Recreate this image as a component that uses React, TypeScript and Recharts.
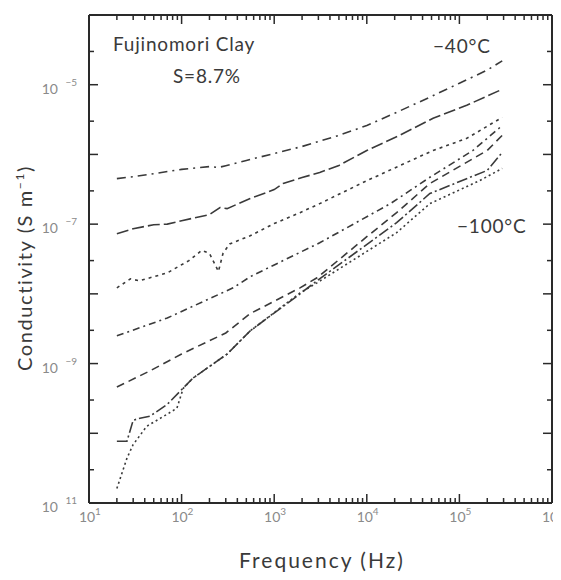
import React from "react";
import { LineChart, Line, XAxis, YAxis } from "recharts";

// frequency (Hz) / conductivity (S m^-1) for each curve
const f1 = [20, 30, 50, 100, 200, 250, 300, 500, 1000, 2000, 5000, 10000, 20000, 50000, 100000, 200000, 290000];
const s1 = [4.5e-7, 4.8e-7, 5.3e-7, 6.1e-7, 6.7e-7, 6.5e-7, 6.9e-7, 8.2e-7, 1.03e-6, 1.3e-6, 1.88e-6, 2.6e-6, 3.9e-6, 6.8e-6, 1.05e-5, 1.62e-5, 2.2e-5];

const f2 = [20, 30, 50, 70, 100, 200, 260, 310, 550, 1000, 1250, 2000, 3100, 5000, 10000, 23000, 52000, 120000, 290000];
const s2 = [7.3e-8, 8.6e-8, 9.8e-8, 1.0e-7, 1.12e-7, 1.37e-7, 1.73e-7, 1.67e-7, 2.33e-7, 3.13e-7, 3.83e-7, 4.67e-7, 5.5e-7, 6.95e-7, 1.14e-6, 1.9e-6, 3.3e-6, 5.07e-6, 8.6e-6];

const f3 = [20, 28, 35, 70, 120, 165, 200, 250, 280, 330, 550, 1000, 1900, 3100, 10000, 52000, 120000, 290000];
const s3 = [1.22e-8, 1.64e-8, 1.54e-8, 2.0e-8, 3.0e-8, 4.2e-8, 3.8e-8, 2.1e-8, 3.8e-8, 5.2e-8, 6.8e-8, 1.02e-7, 1.46e-7, 1.97e-7, 4.2e-7, 1.14e-6, 1.7e-6, 3.4e-6];

const f4 = [20, 70, 360, 550, 1000, 3100, 18000, 48000, 140000, 290000];
const s4 = [2.5e-9, 4.5e-9, 1.22e-8, 1.76e-8, 2.6e-8, 5.4e-8, 1.97e-7, 4.7e-7, 1.14e-6, 2.6e-6];

const f5 = [20, 45, 100, 300, 550, 1900, 2900, 10000, 21000, 48000, 200000, 290000];
const s5 = [4.6e-10, 7.8e-10, 1.37e-9, 2.75e-9, 5.2e-9, 1.22e-8, 1.7e-8, 6.6e-8, 1.46e-7, 3.83e-7, 1.14e-6, 1.88e-6];

const f6 = [20, 25.7, 30, 35.5, 45.6, 70, 96, 133, 310, 550, 1900, 2900, 21000, 48000, 200000, 290000];
const s6 = [7.7e-11, 7.7e-11, 1.54e-10, 1.64e-10, 1.76e-10, 2.6e-10, 4.0e-10, 6.2e-10, 1.37e-9, 2.94e-9, 1.0e-8, 1.54e-8, 1.05e-7, 2.75e-7, 5.9e-7, 1.07e-6];

const f7 = [20, 25.7, 30, 42, 70, 89, 104, 133, 310, 550, 1900, 2900, 21000, 48000, 166000, 290000];
const s7 = [1.62e-11, 4.4e-11, 6.9e-11, 1.26e-10, 1.88e-10, 2.29e-10, 4.4e-10, 6.2e-10, 1.37e-9, 2.94e-9, 1.03e-8, 1.44e-8, 7.55e-8, 1.97e-7, 4.22e-7, 6.3e-7];

const xTicks = [
  10, 20, 30, 40, 50, 60, 70, 80, 90,
  100, 200, 300, 400, 500, 600, 700, 800, 900,
  1000, 2000, 3000, 4000, 5000, 6000, 7000, 8000, 9000,
  10000, 20000, 30000, 40000, 50000, 60000, 70000, 80000, 90000,
  100000, 200000, 300000, 400000, 500000, 600000, 700000, 800000, 900000,
  1000000,
];
const xLabelTicks = [10, 100, 1000, 10000, 100000, 1000000];
const xLabelExp = ["1", "2", "3", "4", "5", "6"];

const yTicks = [1e-11, 3e-11, 1e-10, 3e-10, 1e-9, 3e-9, 1e-8, 3e-8, 1e-7, 3e-7, 1e-6, 3e-6, 1e-5, 3e-5, 1e-4];
const yMajor = [1e-11, 1e-10, 1e-9, 1e-8, 1e-7, 1e-6, 1e-5, 1e-4];
const yLabelTicks = [1e-11, 1e-9, 1e-7, 1e-5];
const yLabelExp = ["11", "\u22129", "\u22127", "\u22125"];

const mk = (f: number[], s: number[]) => f.map((x, i) => ({ f: x, v: s[i] }));

const series = [
  { key: "c1", data: mk(f1, s1), dash: "9 5 2 5" },
  { key: "c2", data: mk(f2, s2), dash: "12 4" },
  { key: "c3", data: mk(f3, s3), dash: "3 4" },
  { key: "c4", data: mk(f4, s4), dash: "7 4 2 4" },
  { key: "c5", data: mk(f5, s5), dash: "8 5" },
  { key: "c6", data: mk(f6, s6), dash: "11 3 2 3" },
  { key: "c7", data: mk(f7, s7), dash: "2 3" },
];

const FONT = "Lato, 'Open Sans', sans-serif";
const AXIS = "#2a2a2a";
const TICK_TXT = "#8a8a8a";
const INK = "#3a3a3a";

const BottomTick = (props: any) => {
  const { x, y, payload } = props;
  const i = xLabelTicks.indexOf(payload.value);
  return (
    <g>
      <line x1={x} x2={x} y1={y} y2={y - (i >= 0 ? 9 : 5)} stroke={AXIS} strokeWidth={1.5} />
      {i >= 0 && (
        <g fontFamily={FONT} fill={TICK_TXT}>
          <text x={x - 2} y={y + 19} fontSize={14} textAnchor="middle">10</text>
          <text x={x + 6} y={y + 12} fontSize={10}>{xLabelExp[i]}</text>
        </g>
      )}
    </g>
  );
};

const TopTick = (props: any) => {
  const { x, y, payload } = props;
  const major = xLabelTicks.indexOf(payload.value) >= 0;
  return <line x1={x} x2={x} y1={y} y2={y + (major ? 9 : 5)} stroke={AXIS} strokeWidth={1.5} />;
};

const LeftTick = (props: any) => {
  const { x, y, payload } = props;
  const major = yMajor.indexOf(payload.value) >= 0;
  const i = yLabelTicks.indexOf(payload.value);
  return (
    <g>
      <line x1={x} x2={x + (major ? 9 : 5)} y1={y} y2={y} stroke={AXIS} strokeWidth={1.5} />
      {i >= 0 && (
        <g fontFamily={FONT} fill={TICK_TXT}>
          <text x={x - 31} y={y + 9} fontSize={14} textAnchor="end">10</text>
          <text x={x - 12} y={y + 1} fontSize={10} textAnchor="end">{yLabelExp[i]}</text>
        </g>
      )}
    </g>
  );
};

const RightTick = (props: any) => {
  const { x, y, payload } = props;
  const major = yMajor.indexOf(payload.value) >= 0;
  return <line x1={x} x2={x - (major ? 9 : 5)} y1={y} y2={y} stroke={AXIS} strokeWidth={1.5} />;
};

export default function App() {
  const W = 553;
  const H = 564;
  return (
    <div style={{ position: "relative", width: W, height: H, overflow: "hidden" }}>
      <LineChart width={W} height={H} margin={{ top: 6, right: 8, bottom: 0, left: 0 }}>
        <XAxis
          dataKey="f"
          type="number"
          scale="log"
          domain={[10, 1000000]}
          allowDataOverflow
          ticks={xTicks}
          interval={0}
          height={69}
          tickSize={0}
          tickMargin={0}
          tickLine={false}
          axisLine={{ stroke: AXIS, strokeWidth: 2 }}
          tick={<BottomTick />}
        />
        <XAxis
          xAxisId="top"
          orientation="top"
          dataKey="f"
          type="number"
          scale="log"
          domain={[10, 1000000]}
          allowDataOverflow
          ticks={xTicks}
          interval={0}
          height={1}
          tickSize={0}
          tickMargin={0}
          tickLine={false}
          axisLine={{ stroke: AXIS, strokeWidth: 2 }}
          tick={<TopTick />}
        />
        <YAxis
          dataKey="v"
          type="number"
          scale="log"
          domain={[1e-11, 1e-4]}
          allowDataOverflow
          ticks={yTicks}
          interval={0}
          width={81}
          tickSize={0}
          tickMargin={0}
          tickLine={false}
          axisLine={{ stroke: AXIS, strokeWidth: 2 }}
          tick={<LeftTick />}
        />
        <YAxis
          yAxisId="right"
          orientation="right"
          dataKey="v"
          type="number"
          scale="log"
          domain={[1e-11, 1e-4]}
          allowDataOverflow
          ticks={yTicks}
          interval={0}
          width={1}
          tickSize={0}
          tickMargin={0}
          tickLine={false}
          axisLine={{ stroke: AXIS, strokeWidth: 2 }}
          tick={<RightTick />}
        />
        {series.map((s) => (
          <Line
            key={s.key}
            data={s.data}
            dataKey="v"
            type="linear"
            stroke={INK}
            strokeWidth={1.6}
            strokeDasharray={s.dash}
            dot={false}
            activeDot={false}
            isAnimationActive={false}
          />
        ))}
      </LineChart>
      <svg
        width={W}
        height={H}
        style={{ position: "absolute", left: 0, top: 0, pointerEvents: "none" }}
      >
        <g fontFamily={FONT} fill={INK} fontSize={19} letterSpacing={0.8}>
          <text x={105} y={43}>Fujinomori Clay</text>
          <text x={165} y={75}>S=8.7%</text>
          <text x={425} y={45}>{"\u221240\u00b0C"}</text>
          <text x={449} y={225}>{"\u2212100\u00b0C"}</text>
        </g>
        <text
          x={24}
          y={260}
          transform="rotate(-90 24 260)"
          textAnchor="middle"
          fontFamily={FONT}
          fontSize={20}
          letterSpacing={1.6}
          fill={INK}
        >
          Conductivity (S m<tspan dy={-8} fontSize={12}>{"\u22121"}</tspan>
          <tspan dy={8}>)</tspan>
        </text>
        <text
          x={314}
          y={560}
          textAnchor="middle"
          fontFamily={FONT}
          fontSize={21}
          letterSpacing={2}
          fill={INK}
        >
          Frequency (Hz)
        </text>
      </svg>
    </div>
  );
}
